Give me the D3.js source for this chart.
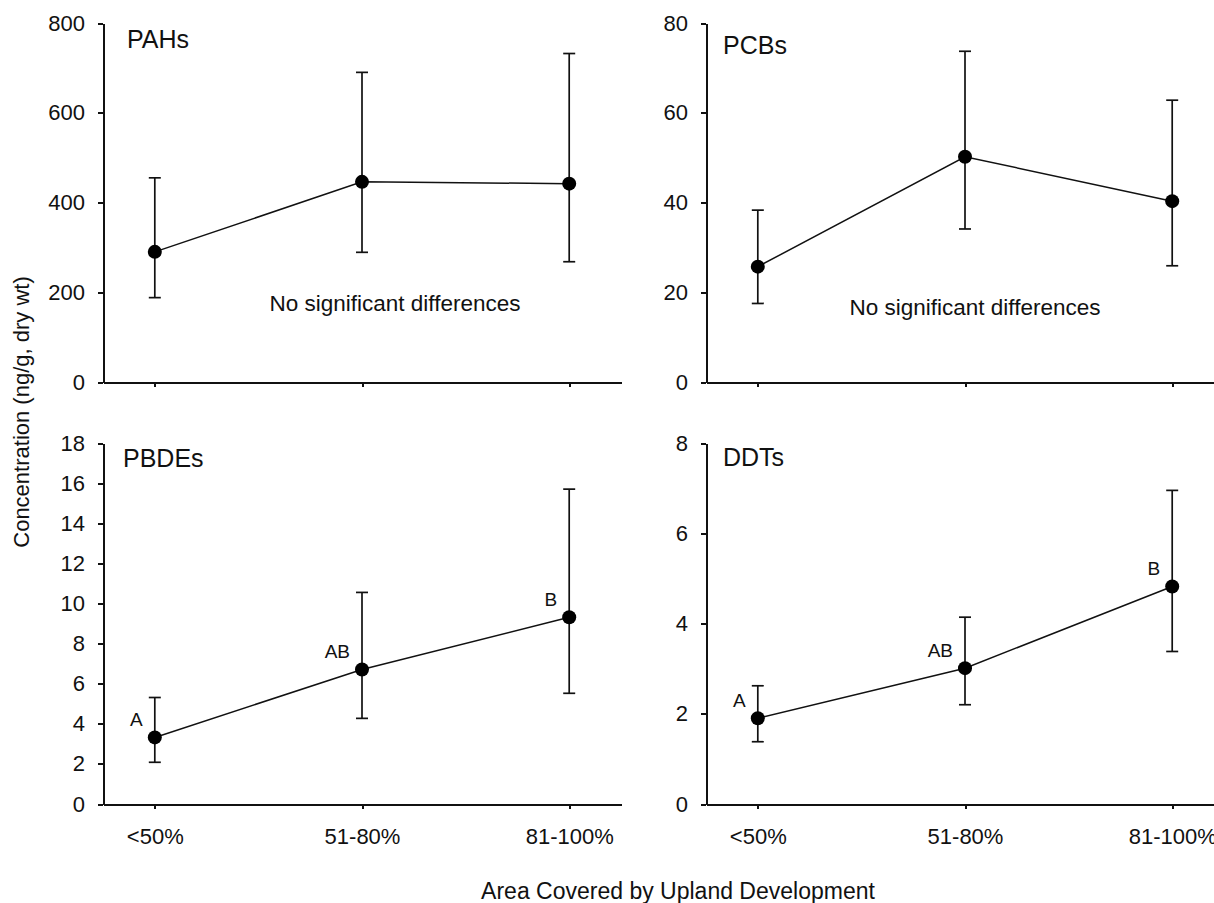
<!DOCTYPE html>
<html>
<head>
    <meta charset="utf-8" />
    <style>
        body {
            margin: 0;
            background: #fff;
            font-family: "Liberation Sans", Arial, sans-serif;
        }

        .axis path,
        .axis line {
            fill: none;
            stroke: #111;
            stroke-width: 2px;
            shape-rendering: crispEdges;
        }

        .axis text {
            font-family: "Liberation Sans", Arial, sans-serif;
            font-size: 22px;
            fill: #111;
        }

        .errbar {
            stroke: #111;
            stroke-width: 1.7px;
            fill: none;
        }

        .meanline {
            stroke: #111;
            stroke-width: 1.5px;
            fill: none;
        }
    </style>
</head>

<body>
    <svg width="1214" height="903"></svg>
    <script src="https://cdn.jsdelivr.net/npm/d3@7"></script>
    <script>

        // categories on the x axis
        var categories = ["<50%", "51-80%", "81-100%"];

        // PAHs
        var pahMean = [290, 446, 442];
        var pahLow = [188, 289, 268];
        var pahHigh = [455, 690, 732];
        var pahTicks = [0, 200, 400, 600, 800];

        // PCBs
        var pcbMean = [25.7, 50.2, 40.3];
        var pcbLow = [17.5, 34.1, 25.9];
        var pcbHigh = [38.3, 73.7, 62.8];
        var pcbTicks = [0, 20, 40, 60, 80];

        // PBDEs
        var pbdeMean = [3.32, 6.71, 9.31];
        var pbdeLow = [2.08, 4.27, 5.52];
        var pbdeHigh = [5.31, 10.55, 15.7];
        var pbdeTicks = [0, 2, 4, 6, 8, 10, 12, 14, 16, 18];

        // DDTs
        var ddtMean = [1.90, 3.01, 4.82];
        var ddtLow = [1.38, 2.20, 3.38];
        var ddtHigh = [2.62, 4.14, 6.95];
        var ddtTicks = [0, 2, 4, 6, 8];

        // significance letters (bottom panels)
        var sigLetters = ["A", "AB", "B"];

        var svg = d3.select("svg");

        var panels = [
            { name: "PAHs", mean: pahMean, low: pahLow, high: pahHigh, ticks: pahTicks,
              left: 103, top: 23, bottom: 382, labelDx: 24, labelY: 48, xLabels: false,
              note: "No significant differences", noteX: 395, noteY: 311 },
            { name: "PCBs", mean: pcbMean, low: pcbLow, high: pcbHigh, ticks: pcbTicks,
              left: 706, top: 23, bottom: 382, labelDx: 17, labelY: 54, xLabels: false,
              note: "No significant differences", noteX: 975, noteY: 315 },
            { name: "PBDEs", mean: pbdeMean, low: pbdeLow, high: pbdeHigh, ticks: pbdeTicks,
              left: 103, top: 443, bottom: 804, labelDx: 20, labelY: 467, xLabels: true,
              letters: sigLetters },
            { name: "DDTs", mean: ddtMean, low: ddtLow, high: ddtHigh, ticks: ddtTicks,
              left: 706, top: 443, bottom: 804, labelDx: 17, labelY: 466, xLabels: true,
              letters: sigLetters }
        ];

        var plotWidth = 518;
        var capHalf = 6;

        panels.forEach(function (p) {
            var g = svg.append("g");

            var x = d3.scalePoint()
                .domain(categories)
                .range([p.left, p.left + plotWidth])
                .padding(0.25);

            var y = d3.scaleLinear()
                .domain([0, p.ticks[p.ticks.length - 1]])
                .range([p.bottom, p.top]);

            var rows = categories.map(function (c, i) {
                return { cat: c, mean: p.mean[i], low: p.low[i], high: p.high[i] };
            });

            //x axis
            var xAxis = d3.axisBottom(x)
                .tickSizeInner(5)
                .tickSizeOuter(0)
                .tickPadding(19);
            if (!p.xLabels) xAxis.tickFormat("");
            g.append("g")
                .attr("class", "axis")
                .attr("transform", "translate(0," + p.bottom + ")")
                .call(xAxis);

            //y axis
            g.append("g")
                .attr("class", "axis")
                .attr("transform", "translate(" + p.left + ",0)")
                .call(d3.axisLeft(y)
                    .tickValues(p.ticks)
                    .tickSizeInner(5)
                    .tickSizeOuter(0)
                    .tickPadding(13));

            //line through the means
            g.append("path")
                .datum(rows)
                .attr("class", "meanline")
                .attr("d", d3.line()
                    .x(function (d) { return x(d.cat); })
                    .y(function (d) { return y(d.mean); }));

            //error bars
            var bars = g.selectAll(".eb")
                .data(rows)
                .enter().append("g");

            bars.append("line")
                .attr("class", "errbar")
                .attr("x1", function (d) { return x(d.cat); })
                .attr("x2", function (d) { return x(d.cat); })
                .attr("y1", function (d) { return y(d.low); })
                .attr("y2", function (d) { return y(d.high); });

            bars.append("line")
                .attr("class", "errbar")
                .attr("x1", function (d) { return x(d.cat) - capHalf; })
                .attr("x2", function (d) { return x(d.cat) + capHalf; })
                .attr("y1", function (d) { return y(d.high); })
                .attr("y2", function (d) { return y(d.high); });

            bars.append("line")
                .attr("class", "errbar")
                .attr("x1", function (d) { return x(d.cat) - capHalf; })
                .attr("x2", function (d) { return x(d.cat) + capHalf; })
                .attr("y1", function (d) { return y(d.low); })
                .attr("y2", function (d) { return y(d.low); });

            //mean dots
            bars.append("circle")
                .attr("cx", function (d) { return x(d.cat); })
                .attr("cy", function (d) { return y(d.mean); })
                .attr("r", 7)
                .style("fill", "#000");

            //significance letters
            if (p.letters) {
                bars.append("text")
                    .attr("x", function (d) { return x(d.cat) - 12; })
                    .attr("y", function (d) { return y(d.mean) - 11; })
                    .attr("text-anchor", "end")
                    .style("font-size", "19px")
                    .style("fill", "#111")
                    .text(function (d, i) { return p.letters[i]; });
            }

            //panel label
            g.append("text")
                .attr("x", p.left + p.labelDx)
                .attr("y", p.labelY)
                .style("font-size", "25px")
                .style("fill", "#111")
                .text(p.name);

            if (p.note) {
                g.append("text")
                    .attr("x", p.noteX)
                    .attr("y", p.noteY)
                    .attr("text-anchor", "middle")
                    .style("font-size", "22.5px")
                    .style("fill", "#111")
                    .text(p.note);
            }
        });

        //y axis title
        svg.append("text")
            .attr("transform", "translate(29,412) rotate(-90)")
            .attr("text-anchor", "middle")
            .style("font-size", "22px")
            .style("fill", "#111")
            .text("Concentration (ng/g, dry wt)");

        //x axis title
        svg.append("text")
            .attr("x", 678)
            .attr("y", 899)
            .attr("text-anchor", "middle")
            .style("font-size", "23px")
            .style("fill", "#111")
            .text("Area Covered by Upland Development");

    </script>
</body>
</html>
